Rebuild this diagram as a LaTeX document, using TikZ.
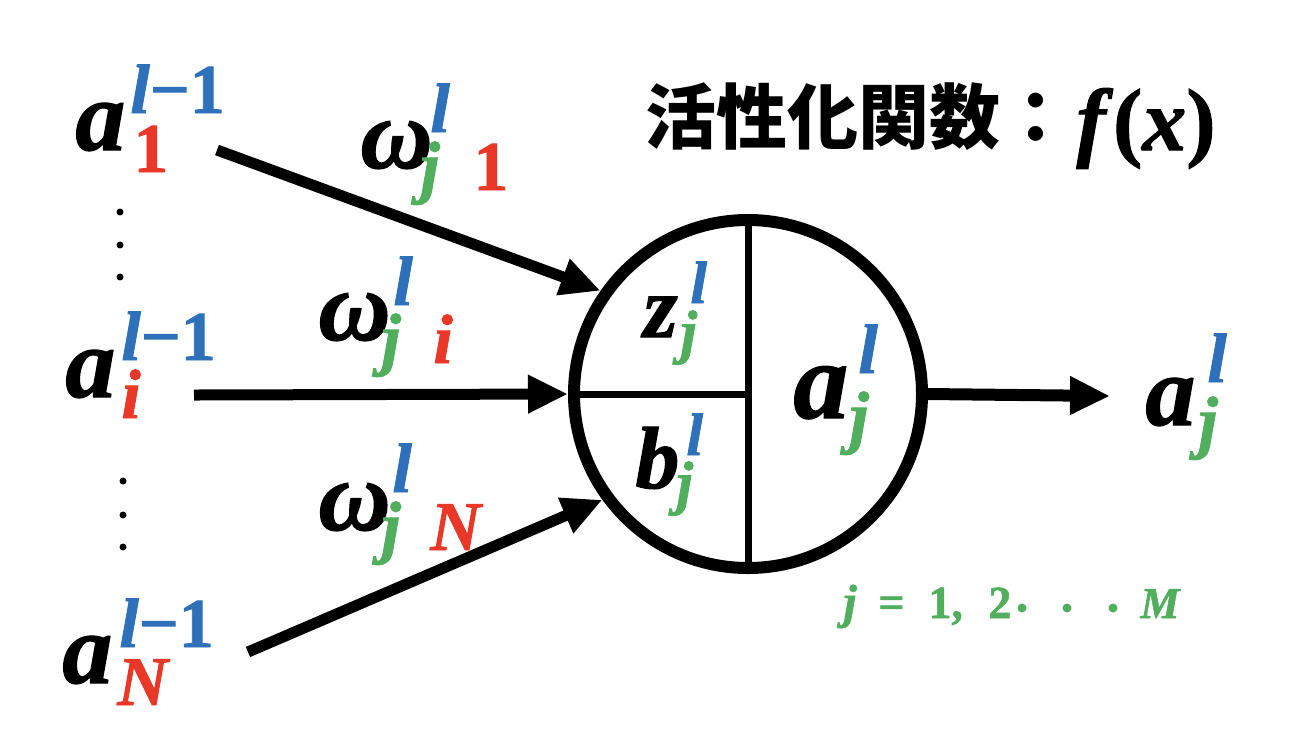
\documentclass[tikz,border=0pt]{standalone}
\usepackage{fontspec}
\setmainfont{Liberation Serif}[BoldItalicFeatures={FakeBold=1.2}, BoldFeatures={FakeBold=1.2}]
\newfontfamily\cjk{Noto Sans CJK JP}
\usetikzlibrary{arrows.meta}
\definecolor{cb}{RGB}{46,112,185}
\definecolor{cr}{RGB}{233,55,40}
\definecolor{cg}{RGB}{80,174,92}
\tikzset{
  txt/.style={inner sep=0pt, anchor=base west},
  big/.style={txt, font=\fontsize{50}{50}\selectfont\bfseries\itshape},
  huge/.style={txt, font=\fontsize{55}{55}\selectfont\bfseries\itshape},
  mid/.style={txt, font=\fontsize{44}{44}\selectfont\bfseries\itshape},
  sm/.style={txt, font=\fontsize{35}{35}\selectfont\bfseries\itshape},
  smup/.style={txt, font=\fontsize{35}{35}\selectfont\bfseries},
  tiny/.style={txt, font=\fontsize{30}{30}\selectfont\bfseries\itshape},
  rng/.style={txt, text=cg, font=\fontsize{23}{23}\selectfont\bfseries},
  wire/.style={line width=5.5pt, -{Triangle[length=20pt,width=18pt]}},
  dotmark/.style={fill=black, draw=none, circle, inner sep=0pt, minimum size=3.5pt},
}
\begin{document}
\begin{tikzpicture}[x=0.5pt, y=-0.5pt]
\useasboundingbox (0,0) rectangle (1312,736);
\fill[white] (0,0) rectangle (1312,736);

% neuron
\node[circle, draw, line width=6pt, minimum size=174pt, inner sep=0pt] (neuron) at (748,394) {};
\draw[line width=3.5pt] (neuron.north) -- (neuron.south);
\draw[line width=3.5pt] (neuron.west) -- (neuron.center);

% input labels
\node[big] (a1) at (75,150) {a};
\node[sm, text=cb] (a1s) at (130,113) {l{\upshape −1}};
\node[smup, text=cr] (a1b) at (133,172) {1};

\node[big] (ai) at (65,397) {a};
\node[sm, text=cb] (ais) at (121,360) {l{\upshape −1}};
\node[sm, text=cr] (aib) at (121,418) {i};

\node[big] (aN) at (62,683) {a};
\node[sm, text=cb] (aNs) at (119,647) {l{\upshape −1}};
\node[sm, text=cr] (aNb) at (117,705) {N};

% vertical dots
\foreach \y [count=\k] in {212,245,277} \node[dotmark] (du\k) at (120,\y) {};
\foreach \y [count=\k] in {481,515,547} \node[dotmark] (dl\k) at (123,\y) {};

% weights
\node[big] (w1) at (360,168) {ω};
\node[sm, text=cb] (w1s) at (430,132) {l};
\node[sm, text=cg] (w1j) at (420,190) {j};
\node[smup, text=cr] (w1b) at (473,190) {1};

\node[big] (wi) at (318,340) {ω};
\node[sm, text=cb] (wis) at (393,305) {l};
\node[sm, text=cg] (wij) at (381,362) {j};
\node[sm, text=cr] (wib) at (433,363) {i};

\node[big] (wN) at (318,530) {ω};
\node[sm, text=cb] (wNs) at (392,492) {l};
\node[sm, text=cg] (wNj) at (381,550) {j};
\node[sm, text=cr] (wNb) at (430,550) {N};

% inside neuron
\node[mid] (z) at (643,337) {z};
\node[tiny, text=cb] (zs) at (690,303) {l};
\node[tiny, text=cg] (zj) at (680,352) {j};

\node[mid] (b) at (635,488) {b};
\node[tiny, text=cb] (bs) at (686,455) {l};
\node[tiny, text=cg] (bj) at (676,503) {j};

\node[huge] (ac) at (793,418) {a};
\node[sm, text=cb] (acs) at (858,373) {l};
\node[sm, text=cg] (acj) at (849,440) {j};

% output label
\node[big] (ao) at (1145,425) {a};
\node[sm, text=cb] (aos) at (1207,382) {l};
\node[sm, text=cg] (aoj) at (1198,445) {j};

% connectors
\coordinate (s1) at (217,150);
\coordinate (si) at (194,395);
\coordinate (sN) at (248,652);
\coordinate (out) at (1110,396);
\draw[wire] (s1) -- (neuron.145);
\draw[wire] (si) -- (neuron.west);
\draw[wire] (sN) -- (neuron.216);
\draw[wire, line width=6pt] (neuron.east) -- (out);

% title
\node[txt, font=\cjk\bfseries\fontsize{35.5}{36}\selectfont] (title) at (645,143) {活性化関数：};
\node[txt, font=\fontsize{44}{44}\selectfont\bfseries] (fx) at (1076,150) {\textit{f}(\textit{x})};

% index range
\node[rng, font=\fontsize{24}{24}\selectfont\bfseries\itshape] (rj) at (843,618) {j};
\node[rng] (req) at (878,618) {=};
\node[rng] (r1) at (928,618) {1,};
\node[rng] (r2) at (988,618) {2};
\foreach \x [count=\k] in {1022,1067,1113} \node[dotmark, fill=cg, minimum size=4.5pt] (rd\k) at (\x,608) {};
\node[rng, font=\fontsize{22}{22}\selectfont\bfseries\itshape] (rM) at (1140,618) {M};
\end{tikzpicture}
\end{document}
